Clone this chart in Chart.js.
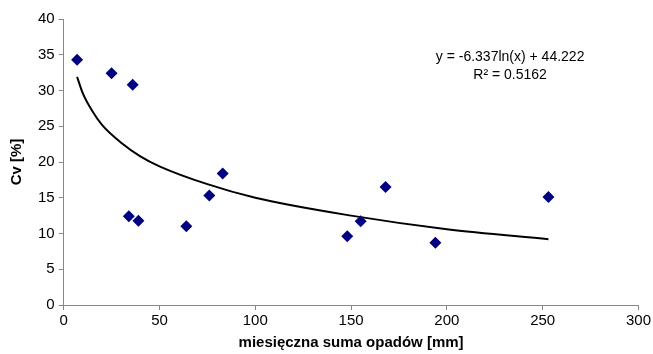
<!DOCTYPE html>
<html>
<head>
<meta charset="utf-8">
<script src="https://cdn.jsdelivr.net/npm/chart.js@4/dist/chart.umd.min.js"></script>
<style>
  html, body { margin: 0; padding: 0; background: #fff; }
  #wrap { width: 653px; height: 354px; }
</style>
</head>
<body>
<div id="wrap"><canvas id="cv-chart"></canvas></div>
<script>
// punkty pomiarowe
const opady = [7, 25, 36, 34, 39, 64, 76, 83, 148, 155, 168, 194, 253];
const cvWartosci = [34.3, 32.4, 30.8, 12.4, 11.8, 11.0, 15.3, 18.4, 9.6, 11.7, 16.5, 8.7, 15.1];

// linia trendu
const trendX = [7, 10, 15, 20, 30, 40, 50, 75, 100, 150, 200, 253];
const trendY = [31.9, 29.6, 27.1, 25.2, 22.7, 20.8, 19.4, 16.9, 15.0, 12.5, 10.6, 9.2];

const xTicks = [0, 50, 100, 150, 200, 250, 300];
const yTicks = [0, 5, 10, 15, 20, 25, 30, 35, 40];

const rownanie = ["y = -6.337ln(x) + 44.222", "R\u00b2 = 0.5162"];

const fontName = "'Liberation Sans', Arial, sans-serif";

const trendLabel = {
  id: "trendLabel",
  afterDraw(chart) {
    const c = chart.ctx;
    const xs = chart.scales.x;
    const ys = chart.scales.y;
    c.save();
    c.fillStyle = "#000";
    c.font = "14px " + fontName;
    c.textAlign = "center";
    c.textBaseline = "middle";
    const cx = xs.getPixelForValue(233);
    c.fillText(rownanie[0], cx, ys.getPixelForValue(34.6));
    c.fillText(rownanie[1], cx, ys.getPixelForValue(32.1));
    c.restore();
  },
};

document.addEventListener("DOMContentLoaded", function () {
  const ctx = document.getElementById("cv-chart").getContext("2d");
  new Chart(ctx, {
    type: "scatter",
    data: {
      datasets: [
        {
          label: "Cv",
          data: opady.map((x, i) => ({ x: x, y: cvWartosci[i] })),
          pointStyle: "rectRot",
          pointRadius: 6,
          pointHoverRadius: 6,
          backgroundColor: "#000080",
          borderColor: "#000080",
          borderWidth: 0,
          order: 1,
        },
        {
          label: "trend",
          data: trendX.map((x, i) => ({ x: x, y: trendY[i] })),
          showLine: true,
          pointRadius: 0,
          borderColor: "#000",
          borderWidth: 2,
          cubicInterpolationMode: "monotone",
          fill: false,
          order: 2,
        },
      ],
    },
    options: {
      responsive: true,
      maintainAspectRatio: false,
      animation: false,
      layout: { padding: { left: 8, right: 9, top: 19, bottom: 2 } },
      scales: {
        x: {
          type: "linear",
          min: 0,
          max: 300,
          afterBuildTicks: (axis) => { axis.ticks = xTicks.map((v) => ({ value: v })); },
          ticks: { color: "#000", font: { family: fontName, size: 15 }, padding: 2, maxRotation: 0 },
          grid: { drawOnChartArea: false, drawTicks: true, tickLength: 5, color: "#888" },
          border: { color: "#888", width: 1 },
          title: {
            display: true,
            text: "miesięczna suma opadów [mm]",
            color: "#000",
            font: { family: fontName, size: 15, weight: "bold" },
            padding: { top: 2, bottom: 0 },
          },
        },
        y: {
          min: 0,
          max: 40,
          afterBuildTicks: (axis) => { axis.ticks = yTicks.map((v) => ({ value: v })); },
          ticks: { color: "#000", font: { family: fontName, size: 15 }, padding: 4 },
          grid: { drawOnChartArea: false, drawTicks: true, tickLength: 5, color: "#888" },
          border: { color: "#888", width: 1 },
          title: {
            display: true,
            text: "Cv [%]",
            color: "#000",
            font: { family: fontName, size: 15, weight: "bold" },
            padding: { top: 0, bottom: 8 },
          },
        },
      },
      plugins: {
        legend: { display: false },
        tooltip: { enabled: false },
      },
    },
    plugins: [trendLabel],
  });
});
</script>
</body>
</html>
